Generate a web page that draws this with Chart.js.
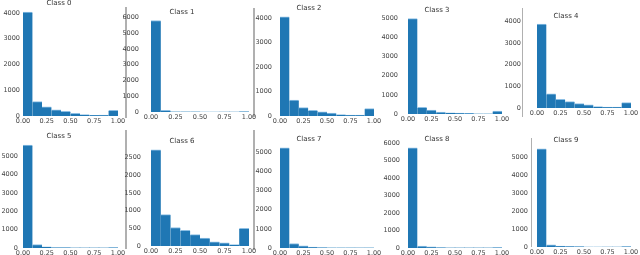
<!DOCTYPE html>
<html>
<head>
<meta charset="utf-8">
<script src="https://cdn.jsdelivr.net/npm/chart.js@4.4.1/dist/chart.umd.min.js"></script>
<style>
body{margin:0;background:#fff;width:640px;height:255px;position:relative;overflow:hidden}
canvas{position:absolute}
.spine{position:absolute;width:1.5px;background:#b0b0b0}
</style>
</head>
<body>
<script>
// histogram bins (0..1, 10 bins) and tick labels
const binCenters = [0.05, 0.15, 0.25, 0.35, 0.45, 0.55, 0.65, 0.75, 0.85, 0.95];
const xTicks = [0, 0.25, 0.5, 0.75, 1];
const titles = ['Class 0', 'Class 1', 'Class 2', 'Class 3', 'Class 4',
                'Class 5', 'Class 6', 'Class 7', 'Class 8', 'Class 9'];

// counts per bin
const class0 = [4030, 555, 360, 235, 180, 105, 55, 30, 40, 220];
const class1 = [5800, 110, 25, 20, 20, 15, 15, 0, 0, 30];
const class2 = [4040, 650, 340, 230, 170, 120, 55, 35, 35, 300];
const class3 = [4980, 350, 210, 110, 70, 55, 40, 20, 20, 160];
const class4 = [3880, 660, 400, 300, 210, 150, 75, 50, 50, 250];
const class5 = [5600, 180, 60, 20, 20, 0, 0, 0, 0, 25];
const class6 = [2720, 890, 525, 446, 325, 228, 123, 89, 45, 500];
const class7 = [5230, 235, 115, 50, 25, 15, 15, 15, 0, 15];
const class8 = [5730, 110, 60, 30, 0, 0, 0, 0, 0, 25];
const class9 = [5450, 120, 60, 40, 30, 15, 15, 0, 0, 30];
const yStep = [1000, 1000, 1000, 1000, 1000, 1000, 500, 1000, 1000, 1000];

const counts = [class0, class1, class2, class3, class4, class5, class6, class7, class8, class9];

// layout
const colLeft = [23, 151, 280, 408, 537];
const colWidth = [95, 98, 94, 94, 94];
const rowTop = [0, 131];
const rowHeight = [128, 129];
const labelGap = [3, 12, 8, 10, 16, 5, 10, 8, 8, 9];
const spines = [[125, 7, 111], [253, 8, 109], [521.5, 8, 109], [125, 130, 119], [253, 130, 120], [530.5, 138, 109]];

const FONT = 'DejaVu Sans';

spines.forEach(s => {
  const d = document.createElement('div');
  d.className = 'spine';
  d.style.left = s[0] + 'px';
  d.style.top = s[1] + 'px';
  d.style.height = s[2] + 'px';
  document.body.appendChild(d);
});

for (let k = 0; k < 10; k++) {
  const col = k % 5, row = Math.floor(k / 5);
  const yw = col === 0 ? colLeft[0] : 36;
  const cv = document.createElement('canvas');
  const w = yw + colWidth[col] + 10;
  cv.width = w;
  cv.height = rowHeight[row];
  cv.style.left = (colLeft[col] - yw) + 'px';
  cv.style.top = rowTop[row] + 'px';
  document.body.appendChild(cv);

  const vals = counts[k];
  const yMax = Math.max(...vals) * 1.05;
  new Chart(cv, {
    type: 'bar',
    data: {
      datasets: [{
        data: binCenters.map((x, i) => ({x: x, y: vals[i]})),
        backgroundColor: '#1f77b4',
        borderColor: '#8dbfe4',
        borderWidth: {top: 1, left: 0, right: 0, bottom: 0},
        barPercentage: 1,
        categoryPercentage: 1
      }]
    },
    options: {
      responsive: false,
      animation: false,
      devicePixelRatio: 1,
      layout: {padding: {left: 0, right: 10, top: 0, bottom: 0}},
      scales: {
        x: {
          type: 'linear',
          min: 0,
          max: 1,
          offset: false,
          afterFit: s => { s.height = 12; },
          afterBuildTicks: s => { s.ticks = xTicks.map(v => ({value: v})); },
          grid: {display: false, drawTicks: false},
          border: {display: false},
          ticks: {
            padding: 1.5,
            maxRotation: 0,
            autoSkip: false,
            color: '#444',
            font: {family: FONT, size: 6.5},
            callback: v => Number(v).toFixed(2)
          }
        },
        y: {
          min: 0,
          max: yMax,
          afterFit: s => { s.width = yw; },
          afterBuildTicks: s => {
            const t = [];
            for (let v = 0; v <= yMax; v += yStep[k]) t.push({value: v});
            s.ticks = t;
          },
          grid: {display: false, drawTicks: false},
          border: {display: false},
          ticks: {
            padding: labelGap[k],
            autoSkip: false,
            color: '#444',
            font: {family: FONT, size: 6.5},
            callback: v => String(v)
          }
        }
      },
      plugins: {
        legend: {display: false},
        tooltip: {enabled: false},
        title: {
          display: true,
          text: titles[k],
          color: '#333',
          font: {family: FONT, size: 7, weight: 'normal', lineHeight: 1},
          padding: {top: 0, bottom: 0}
        }
      }
    }
  });
}
</script>
</body>
</html>
